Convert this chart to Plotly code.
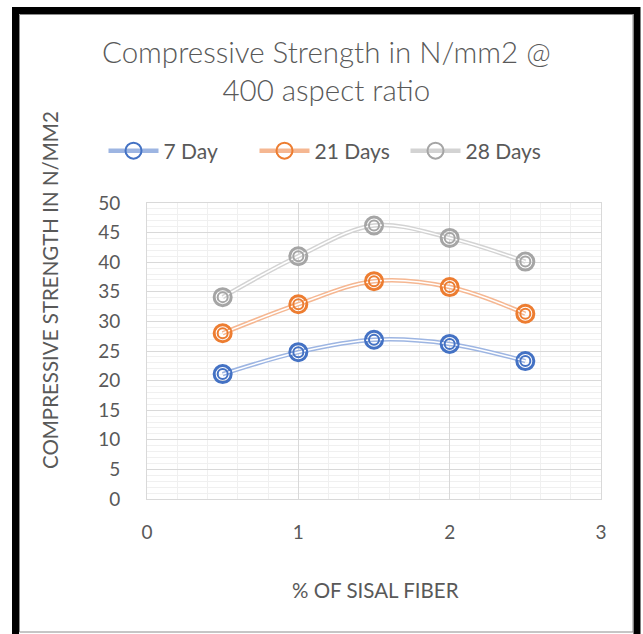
import plotly.graph_objects as go

# Fibre content (% of sisal fibre) and compressive strength (N/mm2)
fiber_pct = [0.5, 1.0, 1.5, 2.0, 2.5]
day7 = [21.1, 24.8, 26.9, 26.2, 23.3]
day21 = [28.0, 32.9, 36.8, 35.8, 31.3]
day28 = [34.1, 41.0, 46.2, 44.1, 40.1]

series_names = ["7 Day", "21 Days", "28 Days"]
series_values = [day7, day21, day28]
marker_colors = ["#4472C4", "#ED7D31", "#A5A5A5"]
line_colors = ["#9DB5E2", "#F5B792", "#D3D3D3"]

y_ticks = [0, 5, 10, 15, 20, 25, 30, 35, 40, 45, 50]
x_ticks = [0, 1, 2, 3]

W, H = 643, 634
ML, MR, MT, MB = 147, 42, 203, 135
PW, PH = W - ML - MR, H - MT - MB

TEXT = "#595959"
FONT = "Lato"


def px_x(p):
    return (p - ML) / PW


def px_y(p):
    return (H - MB - p) / PH


fig = go.Figure()

for name, vals, mc, lc in zip(series_names, series_values, marker_colors, line_colors):
    # coloured band of the compound line, with outer ring; this one feeds the legend
    fig.add_trace(go.Scatter(
        x=fiber_pct, y=vals, mode="lines+markers", name=name, legendgroup=name,
        line=dict(color=lc, width=4.5, shape="spline", smoothing=1),
        marker=dict(symbol="circle-open", size=16, color=mc, line=dict(width=2, color=mc)),
        showlegend=True))
    # thin white core turning the band into a double line
    fig.add_trace(go.Scatter(
        x=fiber_pct, y=vals, mode="lines", legendgroup=name,
        line=dict(color="white", width=1.5, shape="spline", smoothing=1),
        showlegend=False, hoverinfo="skip"))
    # double-circle marker: inner and outer rings
    fig.add_trace(go.Scatter(
        x=fiber_pct, y=vals, mode="markers", legendgroup=name,
        marker=dict(symbol="circle-open", size=10, color=mc, line=dict(width=2, color=mc)),
        showlegend=False, hoverinfo="skip"))
    fig.add_trace(go.Scatter(
        x=fiber_pct, y=vals, mode="markers", legendgroup=name,
        marker=dict(symbol="circle-open", size=18, color=mc, line=dict(width=2, color=mc)),
        showlegend=False, hoverinfo="skip"))

shapes = [
    # outer frame
    dict(type="rect", xref="paper", yref="paper",
         x0=px_x(15.5), x1=px_x(637), y0=px_y(645), y1=px_y(10.5),
         line=dict(color="black", width=7), layer="above"),
    dict(type="rect", xref="paper", yref="paper",
         x0=px_x(19.5), x1=px_x(633), y0=px_y(632), y1=px_y(14.5),
         line=dict(color="#8C8C8C", width=1), layer="above"),
]

annotations = [
    dict(text="Compressive Strength in N/mm2 @<br>400 aspect ratio",
         xref="paper", yref="paper", x=px_x(326), y=px_y(71),
         xanchor="center", yanchor="middle", showarrow=False,
         font=dict(family=FONT, size=29.5, color=TEXT, weight=300)),
    dict(text="COMPRESSIVE STRENGTH IN N/MM2",
         xref="paper", yref="paper", x=px_x(50), y=px_y(290),
         xanchor="center", yanchor="middle", textangle=-90, showarrow=False,
         font=dict(family=FONT, size=20.5, color=TEXT)),
    dict(text="% OF SISAL FIBER",
         xref="paper", yref="paper", x=px_x(375), y=px_y(590),
         xanchor="center", yanchor="middle", showarrow=False,
         font=dict(family=FONT, size=20.5, color=TEXT)),
]

fig.update_layout(
    width=W, height=H,
    margin=dict(l=ML, r=MR, t=MT, b=MB),
    paper_bgcolor="white", plot_bgcolor="white",
    font=dict(family=FONT, color=TEXT, size=19),
    legend=dict(
        orientation="h", xref="container", yref="container",
        x=330 / W, xanchor="center",
        y=1 - 151 / H, yanchor="middle",
        font=dict(family=FONT, size=21, color=TEXT),
        itemwidth=50, tracegroupgap=0, bgcolor="rgba(0,0,0,0)",
        entrywidth=86, entrywidthmode="pixels"),
    shapes=shapes,
    annotations=annotations,
    showlegend=True,
)

fig.update_xaxes(
    range=[0, 3], tickvals=x_ticks, ticktext=[str(v) for v in x_ticks],
    showgrid=True, gridcolor="#D9D9D9", gridwidth=1,
    minor=dict(dtick=0.2, showgrid=True, gridcolor="#F0F0F0", gridwidth=1),
    showline=True, linecolor="#D9D9D9", mirror=True, zeroline=False,
    ticks="", ticklabelstandoff=16,
    tickfont=dict(family=FONT, size=19, color=TEXT),
)
fig.update_yaxes(
    range=[0, 50], tickvals=y_ticks, ticktext=[str(v) for v in y_ticks],
    showgrid=True, gridcolor="#D9D9D9", gridwidth=1,
    minor=dict(dtick=1, showgrid=True, gridcolor="#F0F0F0", gridwidth=1),
    showline=True, linecolor="#D9D9D9", mirror=True, zeroline=False,
    ticks="", ticklabelstandoff=22,
    tickfont=dict(family=FONT, size=19, color=TEXT),
)

fig.write_html("out.html")
